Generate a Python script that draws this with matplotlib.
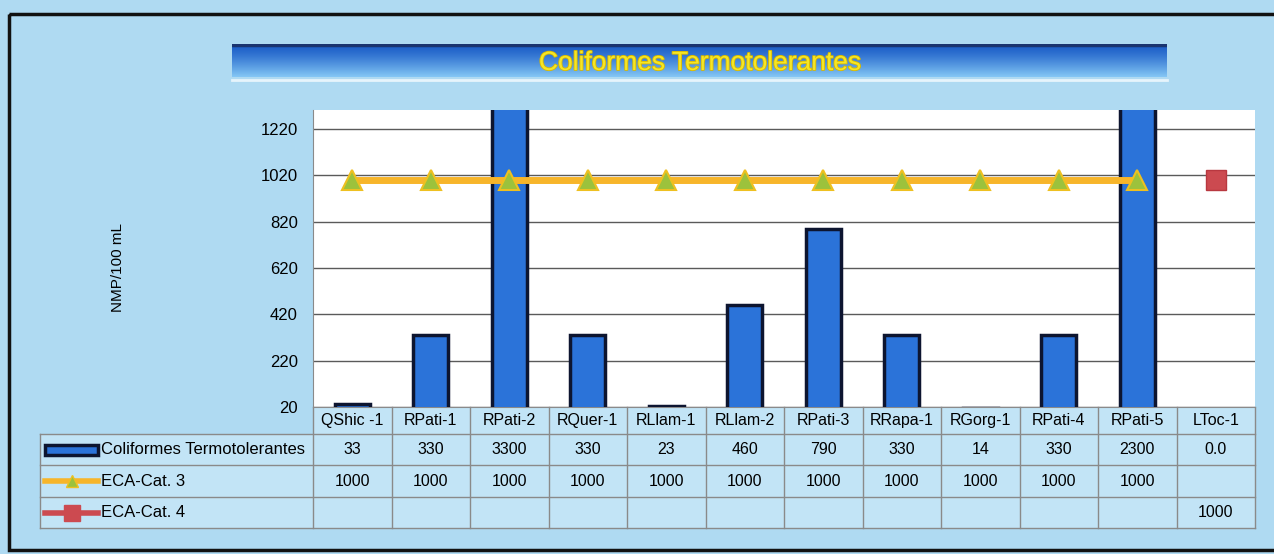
import matplotlib.pyplot as plt
import matplotlib.transforms as mtransforms
import matplotlib.patheffects as pe
from matplotlib.patches import Rectangle
from matplotlib.lines import Line2D
import numpy as np

categories = ["QShic -1", "RPati-1", "RPati-2", "RQuer-1", "RLlam-1", "RLlam-2",
              "RPati-3", "RRapa-1", "RGorg-1", "RPati-4", "RPati-5", "LToc-1"]
coliformes = [33, 330, 3300, 330, 23, 460, 790, 330, 14, 330, 2300, 0.0]
eca_cat3 = [1000, 1000, 1000, 1000, 1000, 1000, 1000, 1000, 1000, 1000, 1000, None]
eca_cat4 = [None, None, None, None, None, None, None, None, None, None, None, 1000]
series_names = ["Coliformes Termotolerantes", "ECA-Cat. 3", "ECA-Cat. 4"]
title = "Coliformes Termotolerantes"
y_label = "NMP/100 mL"
y_ticks = [20, 220, 420, 620, 820, 1020, 1220]

W, H = 1274, 554
BG = "#afdaf2"
CELL = "#c2e4f6"
BAR = "#2b73d9"
BAR_EDGE = "#0d1530"
ORANGE = "#f7b52a"
TRI = "#9cc23c"
RED = "#cc4a50"
GRID = "#8a8a8a"

plt.rcParams["font.family"] = ["Liberation Sans", "DejaVu Sans"]

fig = plt.figure(figsize=(W / 100, H / 100), dpi=100)
fig.patch.set_facecolor(BG)

# pixel coords (origin top-left) -> figure
pxT = mtransforms.Affine2D().scale(1 / W, -1 / H).translate(0, 1) + fig.transFigure

ax_left, ax_top, ax_right, ax_bottom = 313, 110, 1255, 407
ax = fig.add_axes([ax_left / W, 1 - ax_bottom / H, (ax_right - ax_left) / W, (ax_bottom - ax_top) / H])
ax.set_facecolor("white")

x = np.arange(len(categories))
cat3 = np.array([np.nan if v is None else v for v in eca_cat3], dtype=float)
cat4 = np.array([np.nan if v is None else v for v in eca_cat4], dtype=float)

ax.bar(x, coliformes, width=0.45, color=BAR, edgecolor=BAR_EDGE, linewidth=2.5, zorder=3)
ax.plot(x, cat3, color=ORANGE, lw=5, marker="^", ms=15, mfc=TRI, mec="#eec020", mew=1.5, zorder=4)
ax.plot(x, cat4, color=RED, lw=0, marker="s", ms=14, mec="#b83840", zorder=4)

ax.set_xlim(-0.5, len(categories) - 0.5)
ax.set_ylim(20, 1302)
ax.set_yticks(y_ticks)
ax.set_xticks([])
ax.tick_params(axis="y", length=0, pad=11, labelsize=12)
ax.yaxis.grid(True, color="#5a5a5a", lw=1)
ax.set_axisbelow(True)
for s in ["top", "right"]:
    ax.spines[s].set_visible(False)
ax.spines["left"].set_color(GRID)
ax.spines["bottom"].set_color(GRID)
ax.set_ylabel(y_label, fontsize=11)
ax.yaxis.set_label_coords((125 - ax_left) / (ax_right - ax_left), 0.47)

# data table under the plot
tT = mtransforms.blended_transform_factory(ax.transData, pxT)
units_per_px = len(categories) / (ax_right - ax_left)
lab_left = -0.5 - (ax_left - 40) * units_per_px
rows_y = [407, 434, 465, 497, 528]
x_end = len(categories) - 0.5

fig.add_artist(Rectangle((lab_left, rows_y[1]), -0.5 - lab_left, rows_y[-1] - rows_y[1],
                         transform=tT, facecolor=CELL, edgecolor="none", zorder=0))
fig.add_artist(Rectangle((-0.5, rows_y[0]), len(categories), rows_y[-1] - rows_y[0],
                         transform=tT, facecolor=CELL, edgecolor="none", zorder=0))
for y in rows_y[1:]:
    fig.add_artist(Line2D([lab_left, x_end], [y, y], transform=tT, color=GRID, lw=1))
fig.add_artist(Line2D([lab_left, lab_left], [rows_y[1], rows_y[-1]], transform=tT, color=GRID, lw=1))
for i in range(len(categories) + 1):
    fig.add_artist(Line2D([i - 0.5, i - 0.5], [rows_y[0], rows_y[-1]], transform=tT, color=GRID, lw=1))

fs = 11.5
for i, c in enumerate(categories):
    ymid = (rows_y[0] + rows_y[1]) / 2
    fig.text(i, ymid, c, transform=tT, ha="center", va="center", fontsize=fs)
    v = coliformes[i]
    fig.text(i, (rows_y[1] + rows_y[2]) / 2, "0.0" if v == 0 else f"{v:g}",
             transform=tT, ha="center", va="center", fontsize=fs)
    if eca_cat3[i] is not None:
        fig.text(i, (rows_y[2] + rows_y[3]) / 2, f"{eca_cat3[i]:g}",
                 transform=tT, ha="center", va="center", fontsize=fs)
    if eca_cat4[i] is not None:
        fig.text(i, (rows_y[3] + rows_y[4]) / 2, f"{eca_cat4[i]:g}",
                 transform=tT, ha="center", va="center", fontsize=fs)

# legend keys in the row labels
for r, name in enumerate(series_names):
    ym = (rows_y[r + 1] + rows_y[r + 2]) / 2
    if r == 0:
        fig.add_artist(Rectangle((45, ym - 5), 53, 10, transform=pxT, facecolor=BAR,
                                 edgecolor=BAR_EDGE, lw=2.5))
    elif r == 1:
        fig.add_artist(Line2D([45, 98], [ym, ym], transform=pxT, color=ORANGE, lw=4))
        fig.add_artist(Line2D([71.5], [ym], transform=pxT, color=ORANGE, lw=0, marker="^",
                              ms=9, mfc=TRI, mec="#eec020"))
    else:
        fig.add_artist(Line2D([45, 98], [ym, ym], transform=pxT, color=RED, lw=4))
        fig.add_artist(Line2D([71.5], [ym], transform=pxT, color=RED, lw=0, marker="s", ms=11))
    fig.text(101, ym, name, transform=pxT, ha="left", va="center", fontsize=12)

# title banner
ban = fig.add_axes([232 / W, 1 - 77 / H, (1167 - 232) / W, 33 / H])
grad = np.linspace(0, 1, 64).reshape(-1, 1)
top_c = np.array([0.10, 0.36, 0.78])
bot_c = np.array([0.52, 0.78, 0.96])
img = top_c + (bot_c - top_c) * grad[:, :, None] ** 1.3
ban.imshow(img, aspect="auto", extent=[0, 1, 0, 1])
ban.axhline(0.97, color="#1a3470", lw=2.5)
ban.axis("off")
fig.add_artist(Line2D([232, 1167], [79.5, 79.5], transform=pxT, color="#e6f4fc", lw=2))
fig.text(700, 63, title, transform=pxT, ha="center", va="center", fontsize=19,
         color="#f5e626", path_effects=[pe.withStroke(linewidth=1.2, foreground="#d8b800")])

# outer frame
fig.add_artist(Rectangle((9, 14), 1300, 536, transform=pxT, fill=False, edgecolor="#111111", lw=2.5))

fig.savefig("out.png", dpi=100, facecolor=fig.get_facecolor())
